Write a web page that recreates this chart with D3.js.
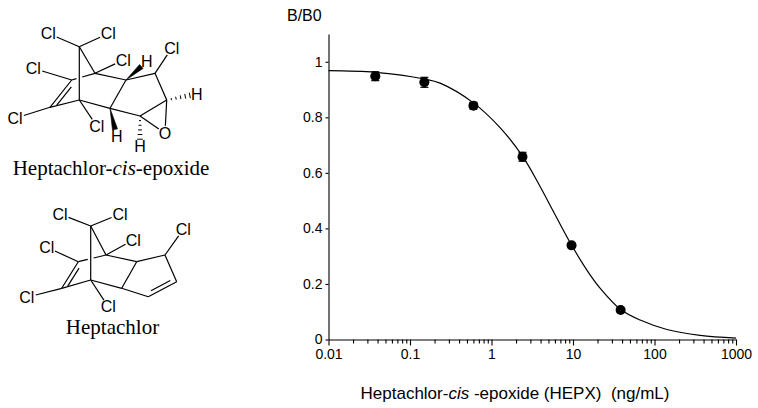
<!DOCTYPE html>
<html>
<head>
<meta charset="utf-8">
<script src="https://cdn.jsdelivr.net/npm/d3@7"></script>
<style>
  body { margin: 0; background: #fff; }
  svg { display: block; font-family: "Liberation Sans", Arial, sans-serif; }
</style>
</head>
<body>
<svg id="fig" width="758" height="408"></svg>
<script>
const conc = [0.0375, 0.15, 0.6, 2.4, 9.6, 38.4];          // ng/mL
const bb0 = [0.948, 0.926, 0.842, 0.658, 0.339, 0.106];     // B/B0
const sd = [0.016, 0.018, 0.012, 0.016, 0.008, 0.006];

// Fitted curve
const fitX = [0.01, 0.0375, 0.15, 0.234, 0.6, 1.28, 2.4, 3.96, 5.77, 9.6, 14.8, 21.6, 38.4, 66.7, 142, 363, 1000];
const fitY = [0.968, 0.962, 0.938, 0.923, 0.852, 0.762, 0.66, 0.55, 0.46, 0.34, 0.25, 0.184, 0.108, 0.07, 0.036, 0.015, 0.005];

// Tick labels
const xTicks = [0.01, 0.1, 1, 10, 100, 1000];
const yTicks = [0, 0.2, 0.4, 0.6, 0.8, 1];

const svg = d3.select("#fig");

// ---------- chart ----------
const x = d3.scaleLog().domain([0.01, 1000]).range([328.5, 736]);
const y = d3.scaleLinear().domain([0, 1.1]).range([339.5, 34]);

// minor x ticks (2..9 in each decade)
const minor = x.ticks().filter(d => Math.abs(Math.log10(d) - Math.round(Math.log10(d))) > 1e-6);

const xMinor = svg.append("g")
    .attr("transform", `translate(0,${y(0)})`)
    .call(d3.axisBottom(x).tickValues(minor).tickFormat("").tickSize(4).tickSizeOuter(0));
xMinor.select(".domain").remove();

const xAxis = svg.append("g")
    .attr("transform", `translate(0,${y(0)})`)
    .call(d3.axisBottom(x).tickValues(xTicks).tickFormat(d => String(d))
        .tickSize(6).tickSizeOuter(0).tickPadding(4));

const yAxis = svg.append("g")
    .attr("transform", `translate(${x(0.01)},0)`)
    .call(d3.axisLeft(y).tickValues(yTicks).tickFormat(d => String(d))
        .tickSize(3).tickSizeOuter(0).tickPadding(3));

[xAxis, yAxis, xMinor].forEach(g => {
  g.attr("font-family", null).attr("font-size", null);
  g.selectAll("line, path").attr("stroke", "#000").attr("stroke-width", 1.1);
  g.selectAll("text").attr("fill", "#000").style("font-size", "14px");
});

// fitted curve
const line = d3.line()
    .x(d => x(d[0]))
    .y(d => y(d[1]))
    .curve(d3.curveCatmullRom.alpha(0.5));

svg.append("path")
    .datum(d3.zip(fitX, fitY))
    .attr("d", line)
    .attr("fill", "none")
    .attr("stroke", "#000")
    .attr("stroke-width", 1.2);

// error bars and points
const pts = conc.map((c, i) => ({ c, v: bb0[i], e: sd[i] }));
const eb = svg.append("g").attr("stroke", "#000").attr("stroke-width", 1.2);
pts.forEach(p => {
  const cx = x(p.c);
  eb.append("line").attr("x1", cx).attr("x2", cx).attr("y1", y(p.v - p.e)).attr("y2", y(p.v + p.e));
  [p.v - p.e, p.v + p.e].forEach(v => {
    eb.append("line").attr("x1", cx - 4).attr("x2", cx + 4).attr("y1", y(v)).attr("y2", y(v));
  });
});

svg.append("g").selectAll("circle")
    .data(pts)
    .enter().append("circle")
    .attr("cx", d => x(d.c))
    .attr("cy", d => y(d.v))
    .attr("r", 5)
    .attr("fill", "#000");

// axis titles
svg.append("text")
    .attr("x", 287).attr("y", 21)
    .style("font-size", "16px")
    .text("B/B0");

const xt = svg.append("text")
    .attr("x", 515).attr("y", 399)
    .attr("text-anchor", "middle")
    .style("font-size", "17px")
    .style("white-space", "pre");
xt.append("tspan").text("Heptachlor-");
xt.append("tspan").style("font-style", "italic").text("cis");
xt.append("tspan").text(" -epoxide (HEPX)  (ng/mL)");

// ---------- structures ----------
const hepxMol = {
  atoms: {
    c7: [79.3, 46.7], cl1: [48.3, 33.5], cl2: [108.3, 33.5],
    bhU: [95, 73.3], cl3: [123.3, 60],
    vU: [71.7, 80], cl4: [33.3, 68.3],
    vL: [50, 107.3], cl5: [15, 118.3],
    bhL: [79.3, 100], cl6: [96.7, 126],
    fU: [126, 80], hU: [146.7, 61.7],
    fL: [110, 108.3], hL: [116.7, 136.7],
    cCl: [155, 73.3], cl7: [171.7, 48.3],
    eR: [166.7, 100], hR: [196.7, 94],
    eL: [140, 116], hE: [140, 146.7],
    O: [165, 133.3]
  },
  labels: { cl1: "Cl", cl2: "Cl", cl3: "Cl", cl4: "Cl", cl5: "Cl", cl6: "Cl", cl7: "Cl",
            hU: "H", hL: "H", hR: "H", hE: "H", O: "O" },
  bonds: [["c7", "bhU"], ["c7", "bhL"], ["vL", "bhL"], ["bhL", "fL"], ["bhU", "fU"],
          ["fU", "fL"], ["fU", "cCl"], ["cCl", "eR"], ["fL", "eL"], ["eL", "eR"],
          ["eL", "O"], ["eR", "O"],
          ["c7", "cl1"], ["c7", "cl2"], ["bhU", "cl3"], ["vU", "cl4"], ["vL", "cl5"],
          ["bhL", "cl6"], ["cCl", "cl7"]],
  gapped: [["vU", "bhU", "c7", "bhL"]],
  doubles: [["vU", "vL", "bhL"]],
  wedges: [["fU", "hU"], ["fL", "hL"]],
  hashes: [["eR", "hR"], ["eL", "hE"]],
  name: { x: 111, y: 175, parts: [["Heptachlor-", false], ["cis", true], ["-epoxide", false]] }
};

const heptMol = {
  atoms: {
    c7: [90.7, 226], cl1: [60, 214], cl2: [120, 214],
    bhU: [106, 255], cl3: [133.3, 240],
    vU: [78.3, 261.7], cl4: [46.7, 247.3],
    vL: [61.7, 288.3], cl5: [26.7, 297.3],
    bhL: [90.7, 280], cl6: [108.3, 306.7],
    fU: [136.7, 261.7], fL: [121.7, 288.3],
    cCl: [165, 255], cl7: [183.3, 229.3],
    vR: [176.7, 281.7], vB: [148.3, 296.7]
  },
  labels: { cl1: "Cl", cl2: "Cl", cl3: "Cl", cl4: "Cl", cl5: "Cl", cl6: "Cl", cl7: "Cl" },
  bonds: [["c7", "bhU"], ["c7", "bhL"], ["vL", "bhL"], ["bhL", "fL"], ["bhU", "fU"],
          ["fU", "fL"], ["fU", "cCl"], ["cCl", "vR"], ["vB", "fL"],
          ["c7", "cl1"], ["c7", "cl2"], ["bhU", "cl3"], ["vU", "cl4"], ["vL", "cl5"],
          ["bhL", "cl6"], ["cCl", "cl7"]],
  gapped: [["vU", "bhU", "c7", "bhL"]],
  doubles: [["vU", "vL", "bhL"], ["vR", "vB", "fU"]],
  wedges: [],
  hashes: [],
  name: { x: 112.5, y: 334, parts: [["Heptachlor", false]] }
};

// half sizes of label boxes, used to stop bonds short of the text
const labelBox = { Cl: [9.5, 7.5], H: [7, 7.5], O: [7.5, 7.5] };

function drawMol(m) {
  const g = svg.append("g").attr("stroke", "#000").attr("stroke-width", 1.2).attr("fill", "none");
  const P = id => m.atoms[id];
  const pad = (id, ux, uy) => {
    const lab = m.labels[id];
    if (!lab) return 0;
    const [a, b] = labelBox[lab];
    return 1 / Math.sqrt((ux / a) ** 2 + (uy / b) ** 2);
  };
  const seg = (a, b) => {
    const [x1, y1] = P(a), [x2, y2] = P(b);
    const L = Math.hypot(x2 - x1, y2 - y1), ux = (x2 - x1) / L, uy = (y2 - y1) / L;
    const ra = pad(a, ux, uy), rb = pad(b, ux, uy);
    return [x1 + ux * ra, y1 + uy * ra, x2 - ux * rb, y2 - uy * rb];
  };
  const drawSeg = s => g.append("line").attr("x1", s[0]).attr("y1", s[1]).attr("x2", s[2]).attr("y2", s[3]);

  m.bonds.forEach(([a, b]) => drawSeg(seg(a, b)));

  // bond drawn behind another one: break it at the crossing
  m.gapped.forEach(([a, b, c, d]) => {
    const [x1, y1] = P(a), [x2, y2] = P(b), [x3, y3] = P(c), [x4, y4] = P(d);
    const den = (x1 - x2) * (y3 - y4) - (y1 - y2) * (x3 - x4);
    const t = ((x1 - x3) * (y3 - y4) - (y1 - y3) * (x3 - x4)) / den;
    const L = Math.hypot(x2 - x1, y2 - y1), gap = 3 / L;
    drawSeg([x1, y1, x1 + (x2 - x1) * (t - gap), y1 + (y2 - y1) * (t - gap)]);
    drawSeg([x1 + (x2 - x1) * (t + gap), y1 + (y2 - y1) * (t + gap), x2, y2]);
  });

  // double bonds: outer line + shorter inner line toward the ring centre side
  m.doubles.forEach(([a, b, side]) => {
    const [x1, y1] = P(a), [x2, y2] = P(b), [sx, sy] = P(side);
    drawSeg([x1, y1, x2, y2]);
    const L = Math.hypot(x2 - x1, y2 - y1);
    let nx = -(y2 - y1) / L, ny = (x2 - x1) / L;
    if ((sx - x1) * nx + (sy - y1) * ny < 0) { nx = -nx; ny = -ny; }
    const o = 4, k = 0.16;
    drawSeg([x1 + (x2 - x1) * k + nx * o, y1 + (y2 - y1) * k + ny * o,
             x2 - (x2 - x1) * k + nx * o, y2 - (y2 - y1) * k + ny * o]);
  });

  // solid wedges (narrow at carbon)
  m.wedges.forEach(([a, b]) => {
    const s = seg(a, b);
    const L = Math.hypot(s[2] - s[0], s[3] - s[1]);
    const nx = -(s[3] - s[1]) / L * 2.6, ny = (s[2] - s[0]) / L * 2.6;
    g.append("path")
        .attr("d", `M${s[0]},${s[1]}L${s[2] + nx},${s[3] + ny}L${s[2] - nx},${s[3] - ny}Z`)
        .attr("fill", "#000").attr("stroke-width", 0.6);
  });

  // hashed wedges
  m.hashes.forEach(([a, b]) => {
    const s = seg(a, b);
    const L = Math.hypot(s[2] - s[0], s[3] - s[1]);
    const ux = (s[2] - s[0]) / L, uy = (s[3] - s[1]) / L;
    const n = 5;
    for (let i = 1; i <= n; i++) {
      const t = i / n, w = 0.6 + 2.2 * t;
      const px = s[0] + (s[2] - s[0]) * t, py = s[1] + (s[3] - s[1]) * t;
      g.append("line")
          .attr("x1", px - uy * w).attr("y1", py + ux * w)
          .attr("x2", px + uy * w).attr("y2", py - ux * w)
          .attr("stroke-width", 1);
    }
  });

  // atom labels
  svg.append("g").selectAll("text")
      .data(Object.keys(m.labels))
      .enter().append("text")
      .attr("x", d => P(d)[0])
      .attr("y", d => P(d)[1])
      .attr("dy", "0.36em")
      .attr("text-anchor", "middle")
      .style("font-size", "16px")
      .text(d => m.labels[d]);

  // compound name
  const t = svg.append("text")
      .attr("x", m.name.x).attr("y", m.name.y)
      .attr("text-anchor", "middle")
      .style("font-family", "'Liberation Serif', 'Times New Roman', serif")
      .style("font-size", "21px");
  m.name.parts.forEach(([s, it]) => {
    t.append("tspan").style("font-style", it ? "italic" : null).text(s);
  });
}

drawMol(hepxMol);
drawMol(heptMol);
</script>
</body>
</html>
